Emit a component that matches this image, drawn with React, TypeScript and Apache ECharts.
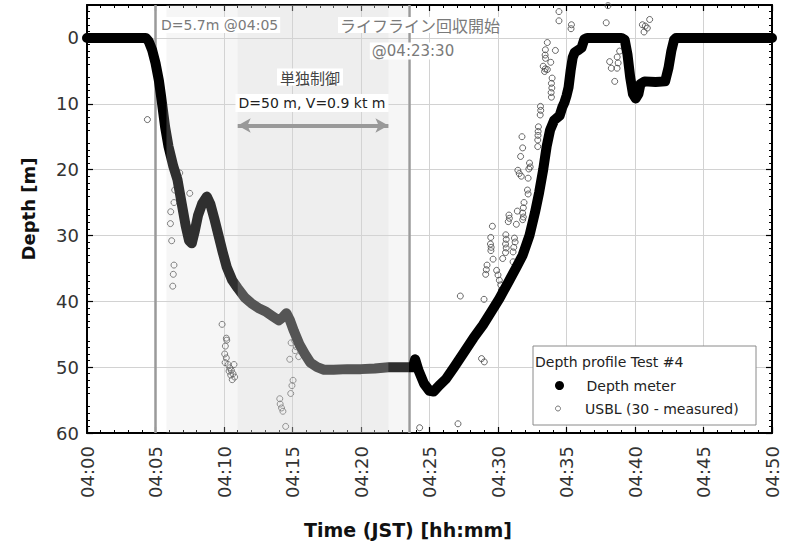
import React, { useEffect, useRef } from 'react';
import * as echarts from 'echarts';

// Time is minutes after 04:00 (JST); depth in metres (positive down)
const xTickValues = [0, 5, 10, 15, 20, 25, 30, 35, 40, 45, 50];
const xTickLabels = ['04:00', '04:05', '04:10', '04:15', '04:20', '04:25', '04:30', '04:35', '04:40', '04:45', '04:50'];
const yTickValues = [0, 10, 20, 30, 40, 50, 60];

const depthTime = [
  0, 4.3, 4.5, 4.75, 5.0, 5.25, 5.45, 5.7, 5.95, 6.3, 6.6, 6.9, 7.2, 7.45, 7.65, 7.85, 8.1, 8.4, 8.75, 9.0,
  9.3, 9.6, 9.9, 10.2, 10.6, 11.0, 11.5, 12.0, 12.5, 13.0, 13.5, 14.0, 14.3, 14.55, 14.8, 15.1, 15.5, 15.9, 16.3, 16.8,
  17.3, 18, 19, 20, 21, 22, 23, 23.8, 23.95, 24.2, 24.6, 25.0, 25.3, 25.7, 26.2, 26.8, 27.5, 28.2, 28.9, 29.5,
  30.1, 30.7, 31.3, 31.8, 32.3, 32.7, 33.0, 33.3, 33.55, 33.8, 34.1, 34.5, 34.7, 34.85, 35.0, 35.15, 35.3, 35.45, 35.6, 35.9,
  36.1, 36.3, 36.5, 38.0, 39.0, 39.25, 39.45, 39.65, 39.85, 40.05, 40.25, 40.4, 40.7, 41.5, 42.2, 42.45, 42.65, 42.85, 43.0, 50,
];
const depthValue = [
  0, 0, 0.5, 1.8, 3.8, 6.5, 9.5, 13.5, 16.5, 19.5, 21.5, 25, 28.5, 30.8, 31.2, 29.5, 27, 25.2, 24.1, 25.2,
  27.5, 30.0, 32.5, 34.8, 36.8, 38.0, 39.4, 40.3, 41.0, 41.5, 42.2, 42.9, 42.4, 41.8, 42.8, 44.5, 46.5, 48.0, 49.3, 50.0,
  50.4, 50.4, 50.3, 50.3, 50.2, 50.0, 50.0, 50.0, 48.8, 50.5, 52.5, 53.6, 53.7, 52.8, 51.8, 50.0, 47.8, 45.6, 43.6, 41.6,
  39.6, 37.3, 35.0, 33.0, 30.0, 26.5, 23.5, 20.0, 16.5, 14.0, 12.5, 11.8, 10.5, 9.8, 8.8, 7.5, 5.0, 3.0, 2.2, 1.8,
  1.5, 0.2, 0, 0, 0, 0.3, 2.5, 6, 8.5, 9.2, 8.5, 7, 6.6, 6.7, 6.6, 4.5, 2, 0.3, 0, 0,
];

const usblTime = [
  4.41, 6.77, 6.66, 6.74, 6.4, 6.35, 7.5, 6.11, 6.09, 6.18, 6.35, 6.3, 6.26,
  9.86, 10.17, 10.2, 10.1, 10.05, 10.17, 10.08, 10.3, 10.42, 10.73, 10.54, 10.66, 10.6, 10.78, 10.37, 10.49,
  15.16, 14.9, 15.28, 15.2, 15.45, 14.8, 15.04, 14.96, 14.87, 14.07, 14.1, 14.2, 14.3, 14.5,
  24.28, 27.08, 27.25, 28.98, 28.8, 29.0,
  29.2, 29.15, 29.1, 29.59, 29.47, 29.45, 29.5, 29.48, 29.64, 29.9, 30.0, 30.1, 30.2, 30.25, 30.34,
  30.57, 30.6, 30.55, 30.6, 30.55, 30.8, 30.83, 30.75, 31.1, 31.2, 31.25, 31.15, 31.1, 31.34, 31.41,
  31.9, 31.85, 31.8, 31.85, 31.8, 32.15, 32.2, 31.45, 31.55, 31.7, 32.2, 32.3, 32.35, 32.25, 31.65,
  31.75, 31.8, 32.95, 32.93, 32.92, 32.9, 32.9, 33.1, 33.12, 33.08,
  33.95, 33.9, 33.93, 33.88, 33.9, 33.3, 33.45, 33.6, 33.4, 33.85, 33.46, 33.44, 33.47, 34.19, 33.6,
  34.45, 34.45, 35.36, 35.33, 38.03, 37.9, 40.54, 41.07, 40.66, 40.9, 40.75,
  38.88, 38.7, 38.15, 38.77, 38.27, 38.69, 38.52,
];
const usblDepth = [
  12.4, 20.5, 21.6, 22.0, 23.1, 25.0, 23.6, 26.4, 28.2, 30.8, 34.5, 35.9, 37.7,
  43.5, 45.6, 45.9, 46.8, 48.0, 48.6, 49.3, 49.6, 50.1, 49.6, 50.5, 51.0, 51.9, 51.5, 50.6, 51.2,
  46.0, 46.3, 46.9, 47.5, 48.4, 48.8, 52.0, 52.8, 54.0, 54.8, 55.6, 56.2, 56.7, 59.0,
  59.2, 58.6, 39.2, 39.7, 48.7, 49.2,
  34.5, 35.2, 35.9, 28.6, 30.3, 31.3, 31.8, 32.3, 33.6, 35.3, 36.0, 36.8, 37.5, 38.3, 33.5,
  29.9, 30.6, 31.3, 31.9, 32.6, 26.9, 27.4, 27.9, 34.0, 30.4, 31.0, 31.8, 32.5, 28.3, 26.3,
  25.0, 25.8, 26.6, 27.2, 27.6, 23.1, 23.7, 20.1, 20.6, 21.0, 21.3, 19.0, 19.6, 19.9, 18.0,
  15.0, 16.7, 13.5, 14.2, 14.8, 15.5, 16.5, 10.4, 11.0, 11.7,
  6.1, 6.9, 7.6, 8.3, 9.0, 4.3, 4.7, 4.8, 5.1, 3.7, 1.8, 2.6, 3.1, 1.9, 0.7,
  -4.0, -2.6, -2.0, -1.4, -4.9, -2.3, -2.0, -2.8, -0.9, -1.5, -1.8,
  2.0, 2.9, 3.6, 3.8, 4.6, 4.6, 6.6,
];

const eventTimes = [5.0, 23.5]; // 04:05 and 04:23:30
const outerBand = [5.8, 23.5];
const innerBand = [11.0, 22.0];
const arrowDepth = 13.3;

const FONT = 'DejaVu Sans';

export default function App() {
  const ref = useRef<HTMLDivElement>(null);

  useEffect(() => {
    if (!ref.current) return;
    const chart = echarts.init(ref.current, null, { renderer: 'svg' });

    const depthData = depthTime.map((t, i) => [t, depthValue[i]]);
    const usblData = usblTime.map((t, i) => [t, usblDepth[i]]);

    const xCommon = {
      type: 'value',
      min: 0,
      max: 50,
      interval: 5,
      axisLine: { show: true, onZero: false, lineStyle: { color: '#000', width: 2 } },
      axisTick: { show: true, inside: true, length: 6, lineStyle: { color: '#000', width: 1.2 } },
      minorTick: { show: true, splitNumber: 5, length: 3, lineStyle: { color: '#000', width: 1 } },
    };
    const yCommon = {
      type: 'value',
      inverse: true,
      min: -5,
      max: 60,
      interval: 5,
      axisLine: { show: true, onZero: false, lineStyle: { color: '#000', width: 2 } },
      axisTick: { show: true, inside: true, length: 6, customValues: yTickValues, lineStyle: { color: '#000', width: 1.2 } },
      minorTick: { show: true, splitNumber: 5, length: 3, lineStyle: { color: '#000', width: 1 } },
    };

    chart.setOption({
      animation: false,
      backgroundColor: '#fff',
      grid: { left: 87, right: 15, top: 5, bottom: 114, containLabel: false },
      xAxis: [
        {
          ...xCommon,
          position: 'bottom',
          axisLabel: {
            rotate: 90,
            margin: 13,
            fontSize: 18,
            fontFamily: FONT,
            color: '#333',
            formatter: (v: number) => xTickLabels[xTickValues.indexOf(v)] ?? '',
          },
          splitLine: { show: true, lineStyle: { color: '#d2d2d2', width: 1 } },
        },
        {
          ...xCommon,
          position: 'top',
          axisLabel: { show: false },
          splitLine: { show: false },
        },
      ],
      yAxis: [
        {
          ...yCommon,
          position: 'left',
          axisLabel: { customValues: yTickValues, margin: 8, fontSize: 18, fontFamily: FONT, color: '#333' },
          splitLine: { show: true, lineStyle: { color: '#d2d2d2', width: 1 } },
        },
        {
          ...yCommon,
          position: 'right',
          axisLabel: { show: false },
          splitLine: { show: false },
        },
      ],
      legend: [
        {
          data: [{ name: 'Depth meter', icon: 'circle' }],
          left: 555,
          top: 378.5,
          padding: 0,
          itemWidth: 44,
          itemHeight: 9,
          z: 10,
          selectedMode: false,
          itemStyle: { color: '#000', borderWidth: 0 },
          textStyle: { fontSize: 14, fontFamily: FONT, color: '#222' },
        },
        {
          data: [{ name: 'USBL (30 - measured)', icon: 'circle' }],
          left: 555,
          top: 401.5,
          padding: 0,
          itemWidth: 44,
          itemHeight: 5,
          z: 10,
          selectedMode: false,
          itemStyle: { color: '#fff', borderColor: '#555', borderWidth: 1 },
          textStyle: { fontSize: 14, fontFamily: FONT, color: '#222' },
        },
      ],
      graphic: [
        { type: 'rect', z: 9, shape: { x: 533, y: 346, width: 223, height: 79 }, style: { fill: '#fff', stroke: '#8a8a8a', lineWidth: 1 } },
        { type: 'text', z: 10, x: 535, y: 362, style: { text: 'Depth profile Test #4', font: `14px "${FONT}"`, fill: '#222', verticalAlign: 'middle' } },
        { type: 'text', z: 20, x: 28, y: 209, rotation: Math.PI / 2, style: { text: 'Depth [m]', font: `bold 18px "${FONT}"`, fill: '#111', align: 'center', verticalAlign: 'middle' } },
        { type: 'text', z: 20, x: 408, y: 530, style: { text: 'Time (JST) [hh:mm]', font: `bold 19px "${FONT}"`, fill: '#111', align: 'center', verticalAlign: 'middle' } },
        { type: 'text', z: 20, x: 159, y: 25, style: { text: 'D=5.7m @04:05', font: `14px "${FONT}"`, fill: '#7a7a7a', verticalAlign: 'middle', backgroundColor: '#fff', padding: [1, 2] } },
        { type: 'text', z: 20, x: 338, y: 25, style: { text: 'ライフライン回収開始', font: '16px "Noto Sans CJK JP"', fill: '#7a7a7a', verticalAlign: 'middle', backgroundColor: '#fff', padding: [0, 2] } },
        { type: 'text', z: 20, x: 413, y: 51, style: { text: '@04:23:30', font: `15px "${FONT}"`, fill: '#7a7a7a', align: 'center', verticalAlign: 'middle', backgroundColor: '#fff', padding: [1, 2] } },
        { type: 'text', z: 20, x: 310, y: 77, style: { text: '単独制御', font: '15px "Noto Sans CJK JP"', fill: '#444', align: 'center', verticalAlign: 'middle', backgroundColor: '#fff', padding: [1, 3] } },
        { type: 'text', z: 20, x: 312, y: 103, style: { text: 'D=50 m, V=0.9 kt m', font: `14px "${FONT}"`, fill: '#222', align: 'center', verticalAlign: 'middle', backgroundColor: '#fff', padding: [2, 3] } },
      ],
      series: [
        {
          name: 'USBL (30 - measured)',
          type: 'scatter',
          data: usblData,
          symbol: 'circle',
          symbolSize: 6,
          z: 2,
          silent: true,
          itemStyle: { color: 'rgba(255,255,255,0)', borderColor: '#444', borderWidth: 1 },
        },
        {
          name: 'Depth meter',
          type: 'line',
          data: depthData,
          showSymbol: false,
          symbol: 'circle',
          z: 3,
          silent: true,
          itemStyle: { color: '#000' },
          lineStyle: { color: '#000', width: 10, cap: 'round', join: 'round' },
          markLine: {
            z: 1,
            silent: true,
            symbol: 'none',
            label: { show: false },
            lineStyle: { color: '#9a9a9a', width: 2.5, type: 'solid' },
            data: eventTimes.map((t) => ({ xAxis: t })),
          },
        },
        {
          type: 'line',
          data: [],
          silent: true,
          markArea: {
            z: 8,
            silent: true,
            data: [
              [{ xAxis: outerBand[0], itemStyle: { color: 'rgba(215,215,215,0.22)' } }, { xAxis: outerBand[1] }],
              [{ xAxis: innerBand[0], itemStyle: { color: 'rgba(210,210,210,0.23)' } }, { xAxis: innerBand[1] }],
            ],
          },
          markLine: {
            z: 12,
            silent: true,
            symbol: ['arrow', 'arrow'],
            symbolSize: [11, 13],
            label: { show: false },
            lineStyle: { color: '#999', width: 4, type: 'solid' },
            data: [[{ coord: [innerBand[0], arrowDepth] }, { coord: [innerBand[1], arrowDepth] }]],
          },
        },
      ],
    });

    return () => chart.dispose();
  }, []);

  return <div ref={ref} style={{ width: 787, height: 547, position: 'absolute', left: 0, top: 0 }} />;
}
